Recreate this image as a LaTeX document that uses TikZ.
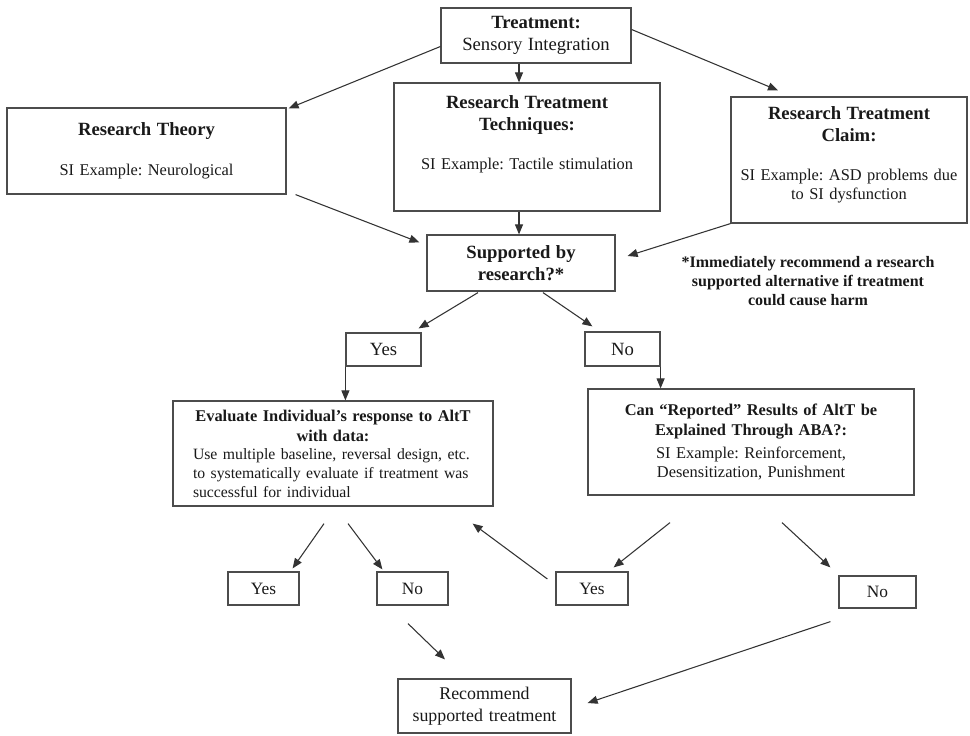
\documentclass[tikz,border=0pt]{standalone}
\usepackage{fontspec}
\setmainfont{Liberation Serif}
\usetikzlibrary{arrows.meta,calc}

\newcommand{\headfont}{\fontsize{14}{16.5}\selectfont\bfseries}
\newcommand{\subhead}{\fontsize{12.3}{15}\selectfont\bfseries}
\frenchspacing

\begin{document}
\begin{tikzpicture}[x=0.75pt, y=-0.75pt,
    box/.style={draw=black!70, line width=0.9pt, rectangle, align=center, inner xsep=4pt, inner ysep=0pt,
      font=\fontsize{12.3}{14.25}\selectfont, text=black!90},
    answer/.style={draw=black!70, line width=0.9pt, rectangle, inner sep=0pt, text=black!90,
      font=\fontsize{14}{16.5}\selectfont},
    small/.style={answer, font=\fontsize{13}{15}\selectfont, minimum width=53.25pt, minimum height=24.75pt},
    arr/.style={draw=black!80, line width=0.8pt, -{Triangle[length=7.5pt,width=6pt]}}]
  \useasboundingbox (0,0) rectangle (970,735);

  \node (treat) [box, text width=134.5pt, minimum height=41.25pt] at (536,35.5)
    {{\headfont Treatment:\par}{\fontsize{14}{17}\selectfont Sensory Integration\par}};
  \node (theory) [box, text width=201.25pt, minimum height=64.5pt] at (146.5,151)
    {{\headfont Research Theory\par}\vspace{16pt}SI Example: Neurological};
  \node (tech) [box, text width=191.5pt, minimum height=96pt] at (527,147)
    {{\headfont Research Treatment\\ Techniques:\par}\vspace{15pt}SI Example: Tactile stimulation\rule[-22pt]{0pt}{0pt}};
  \node (claim) [box, text width=169pt, minimum height=94.5pt] at (849,160)
    {{\headfont Research Treatment\\ Claim:\par}\vspace{15pt}SI Example: ASD problems due\\ to SI dysfunction\rule[-10pt]{0pt}{0pt}};
  \node (supp) [box, text width=133pt, minimum height=42pt] at (521,263)
    {{\headfont Supported by\\ research?*\par}};
  \node (note) [align=center, text=black!90, font=\fontsize{12}{14}\selectfont\bfseries] at (808,281)
    {*Immediately recommend a research\\ supported alternative if treatment\\ could cause harm};

  \node (yes1) [answer, minimum width=56.25pt, minimum height=24.75pt] at (383.5,349.5) {Yes};
  \node (no1) [answer, minimum width=56.25pt, minimum height=25.5pt] at (622.5,349) {No};

  \node (eval) [box, text width=232pt, minimum height=78.75pt] at (333,453.5)
    {{\subhead Evaluate Individual's response to AltT\\ with data:\par}
     {\fontsize{11.8}{14}\selectfont\raggedright\leftskip=11pt Use multiple baseline, reversal design, etc.\\
      to systematically evaluate if treatment was\\ successful for individual\par}};
  \node (can) [box, text width=236.5pt, minimum height=79.5pt] at (751,442)
    {{\subhead Can ``Reported'' Results of AltT be\\ Explained Through ABA?:\par}\vspace{3pt}SI Example: Reinforcement,\\ Desensitization, Punishment};

  \node (yes2) [small] at (263.5,588.5) {Yes};
  \node (no2) [small] at (412.5,588.5) {No};
  \node (yes3) [small, minimum width=54pt] at (592,588.5) {Yes};
  \node (no3) [small, minimum width=57.75pt, minimum height=24pt] at (877.5,592) {No};
  \node (rec) [box, text width=121.75pt, minimum height=40.5pt, font=\fontsize{13.4}{16.5}\selectfont] at (484.5,706)
    {Recommend\\ supported treatment};

  \draw[arr] ($(treat.west)+(0,11)$) -- ($(theory.north east)+(2,1)$);
  \draw[arr] ($(treat.south)+(-17,0)$) -- ($(tech.north)+(-8,0)$);
  \draw[arr] ($(treat.east)+(0,-6)$) -- ($(claim.north)+(-71,-6)$);
  \draw[arr] ($(theory.south east)+(9,0)$) -- ($(supp.north west)+(-7,8)$);
  \draw[arr] ($(tech.south)+(-8,0)$) -- ($(supp.north)+(-2,0)$);
  \draw[arr] (claim.south west) -- ($(supp.east)+(12,-7)$);
  \draw[arr] ($(supp.south)+(-43,1)$) -- ($(yes1.north east)+(-3,-4)$);
  \draw[arr] ($(supp.south)+(22,1)$) -- ($(no1.north west)+(8,-5)$);
  \draw[arr] (yes1.south west) -- (yes1.south west |- eval.north);
  \draw[arr] (no1.south east) -- (no1.south east |- can.north);
  \draw[arr] ($(eval.south)+(-9,17)$) -- ($(yes2.north east)+(-7,-3)$);
  \draw[arr] ($(eval.south)+(15,17)$) -- ($(no2.north west)+(6,-2)$);
  \draw[arr] ($(yes3.west)+(-8,-9.5)$) -- ($(eval.south east)+(-21,17)$);
  \draw[arr] ($(can.south)+(-81,27)$) -- ($(yes3.north east)+(-15,-4)$);
  \draw[arr] ($(can.south)+(31,27)$) -- ($(no3.north west)+(-8,-8)$);
  \draw[arr] ($(no2.south)+(-4.5,18)$) -- ($(rec.north)+(-39.5,-19)$);
  \draw[arr] ($(no3.south west)+(-8,13)$) -- ($(rec.east)+(16,-3)$);
\end{tikzpicture}
\end{document}
